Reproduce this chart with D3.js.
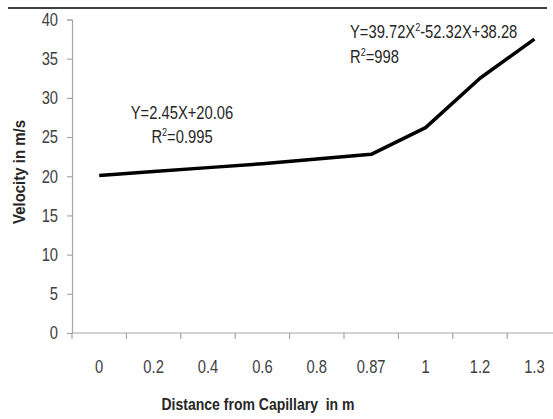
<!DOCTYPE html>
<html>
<head>
<meta charset="utf-8">
<script src="https://cdn.jsdelivr.net/npm/d3@7"></script>
<style>
  body { margin: 0; background: #fff; }
  svg { display: block; font-family: "Liberation Sans", Arial, sans-serif; }
  .tick text { fill: #404040; font-size: 18px; }
  .axis-title { font-weight: bold; fill: #262626; font-size: 17px; }
  .note { fill: #262626; font-size: 18px; }
</style>
</head>
<body>
<div id="chart"></div>
<script>
const distances = ['0', '0.2', '0.4', '0.6', '0.8', '0.87', '1', '1.2', '1.3'];
const velocity = [20.1, 20.6, 21.1, 21.6, 22.2, 22.8, 26.2, 32.5, 37.5];
const yTicks = [0, 5, 10, 15, 20, 25, 30, 35, 40];

const width = 553, height = 419;
const plot = { left: 72, right: 561.6, top: 19.5, bottom: 333 };
const squeeze = 0.82; // the source font is a narrow one

const svg = d3.select('#chart').append('svg')
  .attr('width', width)
  .attr('height', height);

// rule across the top of the figure
svg.append('line')
  .attr('x1', 8).attr('x2', 547)
  .attr('y1', 8).attr('y2', 8)
  .attr('stroke', '#000').attr('stroke-width', 1.5);

const x = d3.scaleBand().domain(distances).range([plot.left, plot.right]);
const y = d3.scaleLinear().domain([0, 40]).range([plot.bottom, plot.top]);

const yAxis = svg.append('g')
  .attr('transform', `translate(${plot.left},0)`)
  .call(d3.axisLeft(y).tickValues(yTicks).tickSize(5).tickPadding(12));

const xAxis = svg.append('g')
  .attr('transform', `translate(0,${plot.bottom})`)
  .call(d3.axisBottom(x).tickSize(0).tickPadding(27));

// tick marks on category boundaries
xAxis.selectAll('.boundary')
  .data(distances)
  .join('line')
  .attr('class', 'boundary')
  .attr('x1', (d) => x(d)).attr('x2', (d) => x(d))
  .attr('y1', 0).attr('y2', 6);

[yAxis, xAxis].forEach((g) => {
  g.selectAll('.domain').attr('stroke', '#a6a6a6').attr('stroke-width', 1.2);
  g.selectAll('line').attr('stroke', '#a6a6a6').attr('stroke-width', 1.2);
  g.selectAll('.tick text')
    .attr('font-size', null).attr('font-family', null)
    .attr('transform', `scale(${squeeze},1)`);
});
xAxis.select('.domain').attr('d', `M${plot.left},0H${width}`);

const line = d3.line()
  .x((d, i) => x(distances[i]) + x.bandwidth() / 2)
  .y((d) => y(d));

svg.append('path')
  .datum(velocity)
  .attr('fill', 'none')
  .attr('stroke', '#000')
  .attr('stroke-width', 3.5)
  .attr('stroke-linejoin', 'round')
  .attr('d', line);

function superscript(tspan, base, sup, rest) {
  tspan.text(base);
  tspan.append('tspan').attr('font-size', 11).attr('dy', -7).text(sup);
  tspan.append('tspan').attr('dy', 7).text(rest);
}

// regression notes
const left = svg.append('g').attr('transform', `translate(182,0) scale(${squeeze},1)`)
  .append('text').attr('class', 'note').attr('text-anchor', 'middle');
left.append('tspan').attr('x', 0).attr('y', 119).text('Y=2.45X+20.06');
superscript(left.append('tspan').attr('x', 0).attr('y', 143), 'R', '2', '=0.995');

const right = svg.append('g').attr('transform', `translate(350,0) scale(${squeeze},1)`)
  .append('text').attr('class', 'note');
superscript(right.append('tspan').attr('x', 0).attr('y', 38), 'Y=39.72X', '2', '-52.32X+38.28');
superscript(right.append('tspan').attr('x', 0).attr('y', 63), 'R', '2', '=998');

svg.append('text')
  .attr('class', 'axis-title')
  .attr('text-anchor', 'middle')
  .attr('transform', 'translate(25,172) rotate(-90)')
  .attr('textLength', 104)
  .attr('lengthAdjust', 'spacingAndGlyphs')
  .text('Velocity in m/s');

svg.append('text')
  .attr('class', 'axis-title')
  .attr('text-anchor', 'middle')
  .attr('x', 258).attr('y', 410)
  .attr('textLength', 193)
  .attr('lengthAdjust', 'spacingAndGlyphs')
  .attr('xml:space', 'preserve')
  .text('Distance from Capillary  in m');
</script>
</body>
</html>
